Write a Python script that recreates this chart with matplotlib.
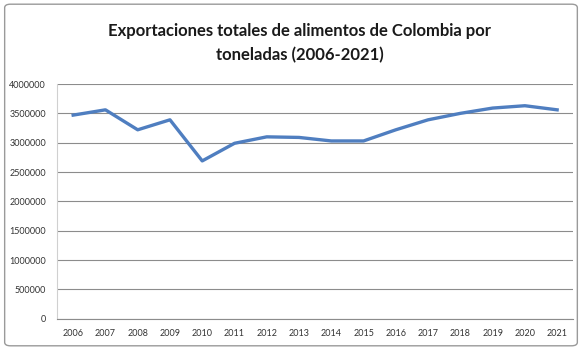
import matplotlib
matplotlib.use("Agg")
from matplotlib import pyplot as plt
from matplotlib.patches import FancyBboxPatch

years = ["2006", "2007", "2008", "2009", "2010", "2011", "2012", "2013",
         "2014", "2015", "2016", "2017", "2018", "2019", "2020", "2021"]
toneladas = [3470000, 3560000, 3220000, 3390000, 2690000, 2990000, 3100000, 3090000,
             3030000, 3030000, 3220000, 3390000, 3500000, 3590000, 3630000, 3560000]
y_ticks = [0, 500000, 1000000, 1500000, 2000000, 2500000, 3000000, 3500000, 4000000]

plt.rcParams['font.family'] = ['Lato', 'DejaVu Sans']

fig = plt.figure(figsize=(5.82, 3.5), dpi=100)
fig.patch.set_facecolor('white')

# borde del grafico (estilo Excel)
border = FancyBboxPatch((0.008, 0.012), 0.984, 0.976, boxstyle="round,pad=0,rounding_size=0.01",
                        transform=fig.transFigure, facecolor='none', edgecolor='#9a9a9a',
                        linewidth=1.0, zorder=-10)
fig.patches.append(border)

ax = fig.add_axes([0.098, 0.089, 0.887, 0.671])
ax.patch.set_alpha(0)
ax.plot(range(len(years)), toneladas, color='#4F7EC0', linewidth=2.4, solid_joinstyle='round')

ax.set_xlim(-0.5, len(years) - 0.5)
ax.set_ylim(0, 4000000)
ax.set_yticks(y_ticks)
ax.set_yticklabels([str(v) for v in y_ticks])
ax.set_xticks(range(len(years)))
ax.set_xticklabels(years)
ax.tick_params(axis='both', length=0, labelsize=6.5, colors='#333333')
ax.tick_params(axis='y', pad=8)
ax.tick_params(axis='x', pad=7)
ax.grid(axis='y', color='#8c8c8c', linewidth=0.8)
ax.set_axisbelow(True)
for side in ['top', 'right']:
    ax.spines[side].set_visible(False)
ax.spines['left'].set_color('#d0d0d0')
ax.spines['bottom'].set_color('#8c8c8c')
ax.spines['bottom'].set_linewidth(0.8)

fig.text(0.515, 0.877, "Exportaciones totales de alimentos de Colombia por\ntoneladas (2006-2021)",
         ha='center', va='center', fontsize=12, fontweight='bold', color='#1a1a1a',
         linespacing=1.55)

plt.savefig('out.png', dpi=100)
